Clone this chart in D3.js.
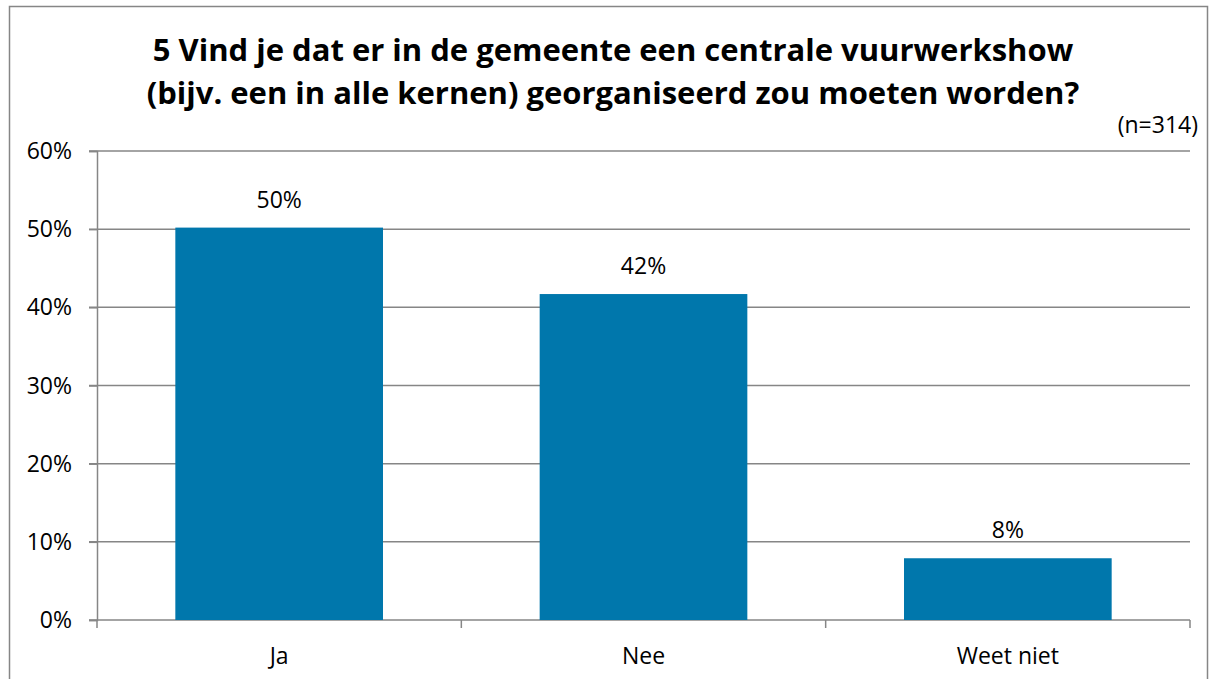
<!DOCTYPE html>
<html>
<head>
<meta charset="utf-8">
<script src="https://cdn.jsdelivr.net/npm/d3@7"></script>
<style>
  body { margin: 0; background: #fff; }
  svg text { font-family: "Open Sans", Carlito, Lato, sans-serif; fill: #000; }
</style>
</head>
<body>
<div id="chart"></div>
<script>
// data
const categories = ["Ja", "Nee", "Weet niet"];
const values = [50.2, 41.7, 7.9];
const valueLabels = ["50%", "42%", "8%"];
const yTicks = [0, 10, 20, 30, 40, 50, 60];
const titleLines = ["5 Vind je dat er in de gemeente een centrale vuurwerkshow",
                    "(bijv. een in alle kernen) georganiseerd zou moeten worden?"];
const note = "(n=314)";

const width = 1214;
const height = 679;
const margin = { top: 151, right: 24, bottom: 59, left: 97 };

const svg = d3.select("#chart")
              .append("svg")
              .attr("width", width)
              .attr("height", height);

// outer chart border
svg.append("rect")
   .attr("x", 9.5)
   .attr("y", 6.5)
   .attr("width", 1198)
   .attr("height", 690)
   .attr("fill", "none")
   .attr("stroke", "#868686")
   .attr("stroke-width", 1.5);

const xScale = d3.scaleBand()
                 .domain(categories)
                 .range([margin.left, width - margin.right]);

const yScale = d3.scaleLinear()
                 .domain([0, 60])
                 .range([height - margin.bottom, margin.top]);

// gridlines
svg.append("g")
   .selectAll("line")
   .data(yTicks)
   .enter()
   .append("line")
   .attr("x1", margin.left - 8)
   .attr("x2", width - margin.right)
   .attr("y1", d => yScale(d))
   .attr("y2", d => yScale(d))
   .attr("stroke", "#868686")
   .attr("stroke-width", 1.5);

// bars
const barW = xScale.bandwidth() * 0.57;
svg.selectAll("rect.bar")
   .data(values)
   .enter()
   .append("rect")
   .attr("class", "bar")
   .attr("x", (d, i) => xScale(categories[i]) + (xScale.bandwidth() - barW) / 2)
   .attr("y", d => yScale(d))
   .attr("width", barW)
   .attr("height", d => yScale(0) - yScale(d))
   .attr("fill", "#0077ac");

// value labels
svg.selectAll("text.val")
   .data(values)
   .enter()
   .append("text")
   .attr("class", "val")
   .attr("x", (d, i) => xScale(categories[i]) + xScale.bandwidth() / 2)
   .attr("y", d => yScale(d) - 20)
   .attr("text-anchor", "middle")
   .style("font-size", "23px")
   .text((d, i) => valueLabels[i]);

// y axis
const yAxis = d3.axisLeft(yScale)
                .tickValues(yTicks)
                .tickFormat(d => d + "%")
                .tickSize(8)
                .tickPadding(17);

const yg = svg.append("g")
              .attr("transform", `translate(${margin.left}, 0)`)
              .call(yAxis);
yg.select(".domain").attr("stroke", "#868686").attr("stroke-width", 1.5);
yg.selectAll(".tick line").attr("stroke", "#868686").attr("stroke-width", 1.5);
yg.selectAll(".tick text")
  .attr("dy", null)
  .attr("y", 7.5)
  .style("font-size", "23px")
  .attr("fill", "#000");

// x axis
const xAxis = d3.axisBottom(xScale).tickSize(0).tickPadding(0);
const xg = svg.append("g")
              .attr("transform", `translate(0, ${yScale(0)})`)
              .call(xAxis);
xg.select(".domain").remove();
xg.selectAll(".tick text")
  .attr("dy", null)
  .attr("y", 44)
  .style("font-size", "23px")
  .attr("fill", "#000");

// category separators
const sepX = categories.map(c => xScale(c)).concat([width - margin.right]);
svg.append("g")
   .selectAll("line")
   .data(sepX)
   .enter()
   .append("line")
   .attr("x1", d => d)
   .attr("x2", d => d)
   .attr("y1", yScale(0))
   .attr("y2", yScale(0) + 8)
   .attr("stroke", "#868686")
   .attr("stroke-width", 1.5);

// title
svg.append("g")
   .selectAll("text")
   .data(titleLines)
   .enter()
   .append("text")
   .attr("x", 613)
   .attr("y", (d, i) => 61 + i * 43)
   .attr("text-anchor", "middle")
   .style("font-size", "31px")
   .style("font-weight", "bold")
   .text(d => d);

svg.append("text")
   .attr("x", 1198)
   .attr("y", 133)
   .attr("text-anchor", "end")
   .style("font-size", "23px")
   .text(note);
</script>
</body>
</html>
